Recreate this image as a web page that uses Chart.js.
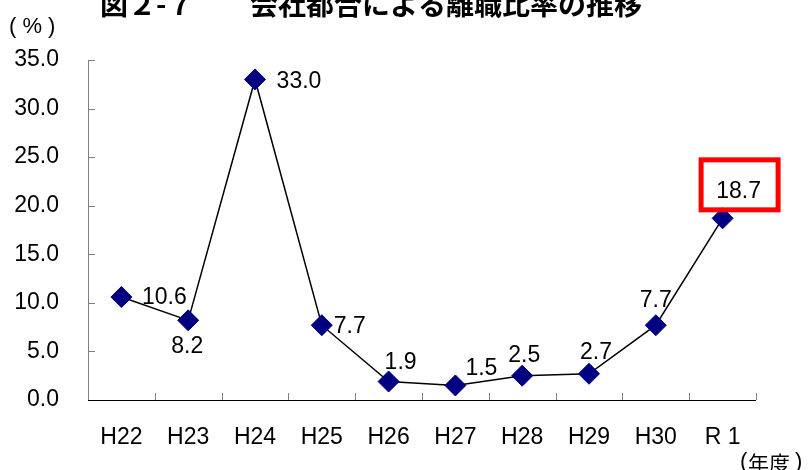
<!DOCTYPE html>
<html lang="ja">
<head>
<meta charset="utf-8">
<title>会社都合による離職比率の推移</title>
<script src="https://cdn.jsdelivr.net/npm/chart.js@4/dist/chart.umd.min.js"></script>
<style>
  html, body { margin: 0; padding: 0; background: #fff; }
  #wrap { width: 809px; height: 470px; position: relative; }
</style>
</head>
<body>
<div id="wrap"><canvas id="chart"></canvas></div>
<script>
// 年度と会社都合による離職比率（%）
const years  = ['H22', 'H23', 'H24', 'H25', 'H26', 'H27', 'H28', 'H29', 'H30', 'R 1'];
const ratios = [10.6, 8.2, 33.0, 7.7, 1.9, 1.5, 2.5, 2.7, 7.7, 18.7];
const yTicks = [0, 5, 10, 15, 20, 25, 30, 35];

// 値ラベルの位置（点からのずれ, px）
const labelShift = [
  [43, 1], [-1, 26], [44, 2], [28, 1], [12, -19],
  [26, -17], [2, -20], [7, -21], [0, -25], [16, -27],
];
const HIGHLIGHT = 9;   // 赤枠で囲む年度

const LATIN = '"Liberation Sans", Arial, sans-serif';
const NUM_FONT = '23px ' + LATIN;
const JP_FONT  = '"Noto Sans CJK JP", sans-serif';
const AXIS_GREY = '#808080';

const decorations = {
  id: 'decorations',
  beforeDraw(chart) {
    const { ctx, width, height } = chart;
    ctx.save();
    ctx.fillStyle = '#fff';
    ctx.fillRect(0, 0, width, height);
    ctx.restore();
  },
  afterDraw(chart) {
    const { ctx, chartArea: a, scales: { x, y } } = chart;
    ctx.save();

    // 軸線と内向きの目盛
    ctx.lineWidth = 1;
    ctx.strokeStyle = AXIS_GREY;
    ctx.beginPath();
    ctx.moveTo(a.left + 0.5, a.top);
    ctx.lineTo(a.left + 0.5, a.bottom);
    yTicks.forEach(v => {
      const py = Math.round(y.getPixelForValue(v)) + 0.5;
      ctx.moveTo(a.left, py);
      ctx.lineTo(a.left + 7, py);
    });
    const step = x.getPixelForValue(1) - x.getPixelForValue(0);
    for (let i = 0; i <= years.length; i++) {
      const px = Math.round(x.getPixelForValue(i) - step / 2) + 0.5;
      ctx.moveTo(px, a.bottom);
      ctx.lineTo(px, a.bottom - 7);
    }
    ctx.stroke();

    ctx.strokeStyle = '#000';
    ctx.beginPath();
    ctx.moveTo(a.left, a.bottom + 0.5);
    ctx.lineTo(a.right, a.bottom + 0.5);
    ctx.stroke();

    // 値ラベル
    const pts = chart.getDatasetMeta(0).data;
    ctx.font = NUM_FONT;
    ctx.fillStyle = '#000';
    ctx.textAlign = 'center';
    ctx.textBaseline = 'middle';
    pts.forEach((p, i) => {
      const [dx, dy] = labelShift[i];
      ctx.fillText(ratios[i].toFixed(1), p.x + dx, p.y + dy);
    });

    // 直近年度を赤枠で強調
    const hp = pts[HIGHLIGHT];
    ctx.strokeStyle = '#ff0000';
    ctx.lineWidth = 5;
    ctx.strokeRect(hp.x - 21.5, hp.y - 58.5, 77, 50);

    // タイトル
    ctx.textAlign = 'left';
    ctx.textBaseline = 'alphabetic';
    ctx.font = 'bold 28px ' + JP_FONT;
    ctx.fillText('図２-７', 100, 15);
    ctx.fillText('会社都合による離職比率の推移', 250, 15);

    // 単位
    ctx.textBaseline = 'middle';
    ctx.font = '22px ' + LATIN;
    ctx.fillText('( % )', 9, 27);
    ctx.fillText('(', 740, 462);
    ctx.fillText(')', 795, 462);
    ctx.font = '21px ' + JP_FONT;
    ctx.fillText('年度', 748, 463);

    ctx.restore();
  },
};

new Chart(document.getElementById('chart'), {
  type: 'line',
  data: {
    labels: years,
    datasets: [{
      data: ratios,
      borderColor: '#000',
      borderWidth: 1.5,
      tension: 0,
      pointStyle: 'rectRot',
      pointRadius: 10.5,
      pointBackgroundColor: '#000080',
      pointBorderColor: '#000080',
      pointBorderWidth: 1,
    }],
  },
  options: {
    responsive: true,
    maintainAspectRatio: false,
    animation: false,
    events: [],
    layout: { padding: { top: 60, right: 53, left: 0, bottom: 0 } },
    plugins: {
      legend: { display: false },
      tooltip: { enabled: false },
    },
    scales: {
      x: {
        offset: true,
        grid: { display: false, drawTicks: false },
        border: { display: false },
        ticks: {
          color: '#000',
          font: { family: LATIN, size: 23 },
          padding: 24,
          maxRotation: 0,
          autoSkip: false,
        },
        afterFit: s => { s.height = 70; },
      },
      y: {
        min: 0,
        max: 35,
        grid: { display: false, drawTicks: false },
        border: { display: false },
        ticks: {
          stepSize: 5,
          color: '#000',
          font: { family: LATIN, size: 23 },
          padding: 29,
          callback: v => v.toFixed(1),
        },
        afterFit: s => { s.width = 88; },
      },
    },
  },
  plugins: [decorations],
});
</script>
</body>
</html>
